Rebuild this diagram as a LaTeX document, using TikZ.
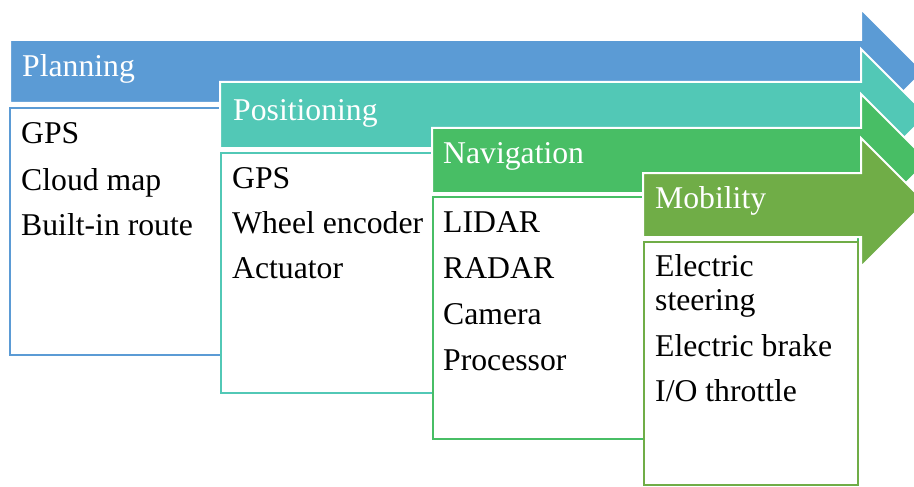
\documentclass[tikz,border=0pt]{standalone}
\usepackage{fontspec}
\setmainfont{Liberation Serif}
\definecolor{planC}{RGB}{91,155,213}
\definecolor{posC}{RGB}{82,200,182}
\definecolor{navC}{RGB}{72,190,101}
\definecolor{mobC}{RGB}{112,173,71}
\tikzset{
  band/.style={draw=white, line width=2pt, line join=miter},
  card/.style={fill=white, line width=2.5pt},
  title/.style={anchor=base west, inner sep=0pt, text=white, font=\fontsize{31.7}{34}\selectfont},
  item/.style={anchor=base west, inner sep=0pt, text=black, font=\fontsize{31.7}{34}\selectfont},
}
% stage arrow: colour, start x, shaft top, shaft bottom, head top, head bottom
\newcommand\stagearrow[6]{%
  \filldraw[band, fill=#1] (#2,#3) -- (861,#3) -- (861,#5)
    -- ({861+(#6-#5)/2},{(#5+#6)/2}) -- (861,#6) -- (861,#4) -- (#2,#4) -- cycle;}
\begin{document}
\begin{tikzpicture}[x=1pt,y=-1pt]
\useasboundingbox (0,0) rectangle (914,487);
\clip (0,0) rectangle (914,487);

% Planning
\stagearrow{planC}{10}{40}{103}{9}{134}
\draw[card, draw=planC] (10,108) rectangle (858,355);
\node[title] (t1) at (22,76.7) {Planning};
\node[item] (p1) at (21,143.3) {GPS};
\node[item] (p2) at (21,190) {Cloud map};
\node[item] (p3) at (21,235) {Built-in route};

% Positioning
\stagearrow{posC}{220}{82}{148}{49}{181}
\draw[card, draw=posC] (221,153) rectangle (858,393);
\node[title] (t2) at (233,120.7) {Positioning};
\node[item] (q1) at (232,188) {GPS};
\node[item] (q2) at (232,233) {Wheel encoder};
\node[item] (q3) at (232,278) {Actuator};

% Navigation
\stagearrow{navC}{432}{128}{193}{94}{228}
\draw[card, draw=navC] (433,197) rectangle (858,439);
\node[title] (t3) at (443,164) {Navigation};
\node[item] (r1) at (443,232.7) {LIDAR};
\node[item] (r2) at (443,278) {RADAR};
\node[item] (r3) at (443,324) {Camera};
\node[item] (r4) at (443,370) {Processor};

% Mobility
\stagearrow{mobC}{643}{173}{237}{138}{267}
\draw[card, draw=mobC] (644,242) rectangle (858,485);
\node[title] (t4) at (655,208) {Mobility};
\node[item] (s1) at (655,276.7) {Electric};
\node[item] (s2) at (655,310) {steering};
\node[item] (s3) at (655,356.7) {Electric brake};
\node[item] (s4) at (655,401.7) {I/O throttle};
\end{tikzpicture}
\end{document}
